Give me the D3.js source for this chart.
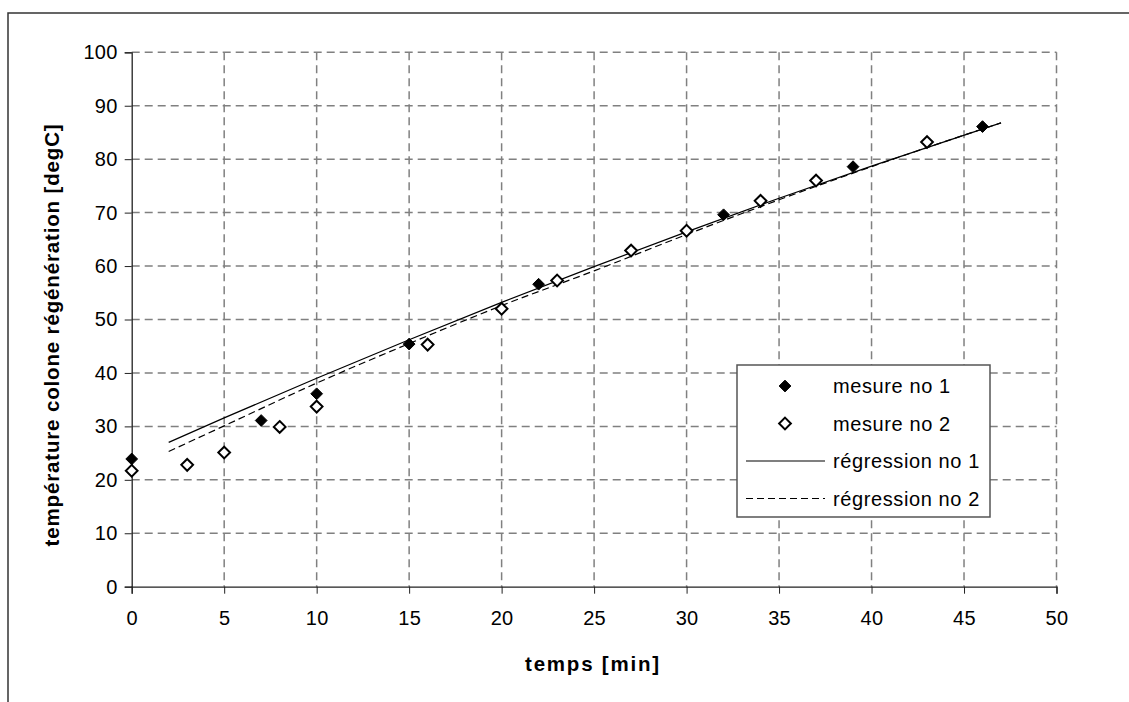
<!DOCTYPE html>
<html>
<head>
<meta charset="utf-8">
<script src="https://cdn.jsdelivr.net/npm/d3@7"></script>
<style>
  body { margin: 0; background: #fff; }
  svg { display: block; font-family: "Liberation Sans", Arial, sans-serif; }
</style>
</head>
<body>
<div id="chart"></div>
<script>
// mesure no 1 (filled diamonds)
var mesure1 = [
	{x: 0, y: 23.9}, {x: 7, y: 31.1}, {x: 10, y: 36.1}, {x: 15, y: 45.4},
	{x: 22, y: 56.6}, {x: 32, y: 69.6}, {x: 39, y: 78.6}, {x: 46, y: 86.1}
];
// mesure no 2 (open diamonds)
var mesure2 = [
	{x: 0, y: 21.7}, {x: 3, y: 22.8}, {x: 5, y: 25.1}, {x: 8, y: 29.9},
	{x: 10, y: 33.7}, {x: 16, y: 45.3}, {x: 20, y: 52.0}, {x: 23, y: 57.3},
	{x: 27, y: 62.9}, {x: 30, y: 66.6}, {x: 34, y: 72.2}, {x: 37, y: 76.0},
	{x: 43, y: 83.2}
];
// regression curves
var regression1 = [
	{x: 2, y: 27.0}, {x: 5, y: 31.6}, {x: 10, y: 39.0}, {x: 15, y: 46.2},
	{x: 20, y: 53.2}, {x: 25, y: 59.9}, {x: 30, y: 66.4}, {x: 35, y: 72.7},
	{x: 40, y: 78.7}, {x: 47, y: 86.8}
];
var regression2 = [
	{x: 2, y: 25.3}, {x: 5, y: 30.1}, {x: 10, y: 38.1}, {x: 15, y: 45.5},
	{x: 20, y: 52.6}, {x: 25, y: 59.1}, {x: 30, y: 65.9}, {x: 35, y: 72.4},
	{x: 40, y: 78.6}, {x: 47, y: 86.8}
];
var xTicks = [0, 5, 10, 15, 20, 25, 30, 35, 40, 45, 50];
var yTicks = [0, 10, 20, 30, 40, 50, 60, 70, 80, 90, 100];
var legendLabels = ["mesure no 1", "mesure no 2", "régression no 1", "régression no 2"];

var W = 1129, H = 702;
var margin = {top: 52.3, left: 131.7},
	width = 1056.5 - 131.7,
	height = 586.7 - 52.3;

var svg = d3.select("#chart")
	.append("svg")
	.attr("width", W)
	.attr("height", H);

// outer frame, runs off the right and bottom edges
svg.append("rect")
	.attr("x", 8).attr("y", 13)
	.attr("width", 1300).attr("height", 900)
	.attr("fill", "none")
	.attr("stroke", "#333")
	.attr("stroke-width", 1.5);

var g = svg.append("g")
	.attr("transform", "translate(" + margin.left + "," + margin.top + ")");

var x = d3.scaleLinear().domain([0, 50]).range([0, width]);
var y = d3.scaleLinear().domain([0, 100]).range([height, 0]);

// grid
g.selectAll(".hgrid")
	.data(yTicks.filter(function (d) { return d > 0; }))
	.enter().append("line")
	.attr("x1", 0).attr("x2", width)
	.attr("y1", function (d) { return y(d); })
	.attr("y2", function (d) { return y(d); })
	.attr("stroke", "#808080")
	.attr("stroke-width", 1.5)
	.attr("stroke-dasharray", "8,5");

g.selectAll(".vgrid")
	.data(xTicks.filter(function (d) { return d > 0; }))
	.enter().append("line")
	.attr("y1", 0).attr("y2", height)
	.attr("x1", function (d) { return x(d); })
	.attr("x2", function (d) { return x(d); })
	.attr("stroke", "#808080")
	.attr("stroke-width", 1.5)
	.attr("stroke-dasharray", "8,5");

// axes
var yAxis = g.append("g")
	.call(d3.axisLeft(y).tickValues(yTicks).tickSize(7).tickPadding(7));
var xAxis = g.append("g")
	.attr("transform", "translate(0," + height + ")")
	.call(d3.axisBottom(x).tickValues(xTicks).tickSize(7).tickPadding(17));

[yAxis, xAxis].forEach(function (a) {
	a.select(".domain").attr("stroke", "#222").attr("stroke-width", 1.3);
	a.selectAll(".tick line").attr("stroke", "#222");
	a.selectAll("text").attr("font-size", 20).attr("fill", "#000")
		.attr("letter-spacing", 0.3)
		.attr("font-family", "'Liberation Sans', Arial, sans-serif");
});

// axis titles
svg.append("text")
	.attr("transform", "translate(59,335) rotate(-90)")
	.attr("text-anchor", "middle")
	.attr("font-size", 20.5)
	.attr("font-weight", "bold")
	.attr("letter-spacing", 0.85)
	.text("température colone régénération [degC]");

svg.append("text")
	.attr("x", 593).attr("y", 671)
	.attr("text-anchor", "middle")
	.attr("font-size", 20.5)
	.attr("font-weight", "bold")
	.attr("letter-spacing", 1.8)
	.text("temps [min]");

// regression lines
var line = d3.line()
	.x(function (d) { return x(d.x); })
	.y(function (d) { return y(d.y); })
	.curve(d3.curveMonotoneX);

g.append("path")
	.datum(regression2)
	.attr("d", line)
	.attr("fill", "none")
	.attr("stroke", "#000")
	.attr("stroke-width", 1.2)
	.attr("stroke-dasharray", "7,4");

g.append("path")
	.datum(regression1)
	.attr("d", line)
	.attr("fill", "none")
	.attr("stroke", "#000")
	.attr("stroke-width", 1.2);

// markers
var diamond = d3.symbol().type(d3.symbolDiamond2).size(88);

g.selectAll(".m1")
	.data(mesure1)
	.enter().append("path")
	.attr("d", diamond)
	.attr("transform", function (d) { return "translate(" + x(d.x) + "," + y(d.y) + ")"; })
	.attr("fill", "#000")
	.attr("stroke", "#000")
	.attr("stroke-width", 1);

g.selectAll(".m2")
	.data(mesure2)
	.enter().append("path")
	.attr("d", diamond)
	.attr("transform", function (d) { return "translate(" + x(d.x) + "," + y(d.y) + ")"; })
	.attr("fill", "#fff")
	.attr("stroke", "#000")
	.attr("stroke-width", 2);

// legend
var legend = svg.append("g").attr("transform", "translate(737,365)");
legend.append("rect")
	.attr("width", 253).attr("height", 152)
	.attr("fill", "#fff")
	.attr("stroke", "#555")
	.attr("stroke-width", 1.5);

var rows = legend.selectAll(".row")
	.data(legendLabels)
	.enter().append("g")
	.attr("transform", function (d, i) { return "translate(0," + (21 + i * 37.5) + ")"; });

rows.append("text")
	.attr("x", 96).attr("y", 7)
	.attr("font-size", 20)
	.attr("letter-spacing", 0.6)
	.text(function (d) { return d; });

rows.filter(function (d, i) { return i < 2; })
	.append("path")
	.attr("d", diamond)
	.attr("transform", "translate(48,0)")
	.attr("fill", function (d, i) { return i === 0 ? "#000" : "#fff"; })
	.attr("stroke", "#000")
	.attr("stroke-width", function (d, i) { return i === 0 ? 1 : 2; });

rows.filter(function (d, i) { return i >= 2; })
	.append("line")
	.attr("x1", 9).attr("x2", 88)
	.attr("stroke", "#000")
	.attr("stroke-width", 1.2)
	.attr("stroke-dasharray", function (d, i) { return i === 1 ? "7,4" : null; });
</script>
</body>
</html>
